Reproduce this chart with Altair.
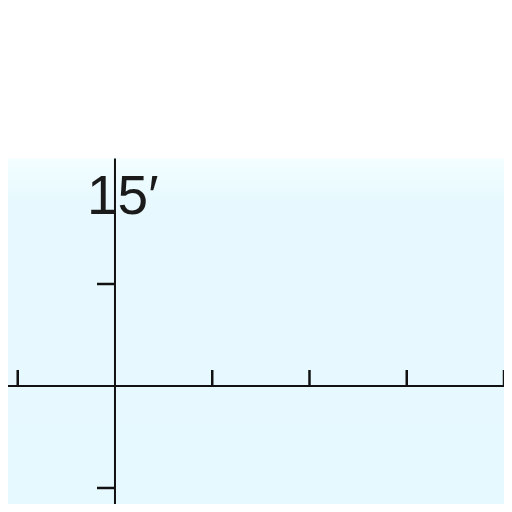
import altair as alt
import pandas as pd

# data
x_ticks = [-1, 1, 2, 3, 4]
y_ticks = [1, -1]
label_text = ["15′"]
label_x = [-0.288]
label_y = [1.686]
x_domain = [-1.10, 4.0]
y_domain = [-1.157, 3.706]
panel_top = [2.23]
x_tick_len = 0.157
y_tick_len = 0.185

W, H = 496, 496
xs = alt.Scale(domain=x_domain, nice=False, zero=False)
ys = alt.Scale(domain=y_domain, nice=False, zero=False)

bg = alt.Chart(pd.DataFrame({"x": [x_domain[0]], "x2": [x_domain[1]], "y": [y_domain[0]], "y2": panel_top})).mark_rect(
    color=alt.Gradient(gradient="linear", x1=0, y1=0, x2=0, y2=1,
                       stops=[alt.GradientStop(color="#f3feff", offset=0),
                              alt.GradientStop(color="#e7f9fe", offset=0.12),
                              alt.GradientStop(color="#e6f9fe", offset=1)])
).encode(
    x=alt.X("x:Q", scale=xs, axis=None), x2="x2:Q",
    y=alt.Y("y:Q", scale=ys, axis=None), y2="y2:Q")

xaxis = alt.Chart(pd.DataFrame({"x": [x_domain[0]], "x2": [x_domain[1]], "y": [0]})).mark_rule(
    color="#111111", strokeWidth=2).encode(
    x=alt.X("x:Q", scale=xs, axis=None), x2="x2:Q", y=alt.Y("y:Q", scale=ys, axis=None))

yaxis = alt.Chart(pd.DataFrame({"x": [0], "y": [y_domain[0]], "y2": panel_top})).mark_rule(
    color="#111111", strokeWidth=2).encode(
    x=alt.X("x:Q", scale=xs, axis=None), y=alt.Y("y:Q", scale=ys, axis=None), y2="y2:Q")

xt_df = pd.DataFrame({"x": x_ticks, "y": [0] * len(x_ticks), "y2": [x_tick_len] * len(x_ticks)})
xt = alt.Chart(xt_df).mark_rule(color="#111111", strokeWidth=2.5).encode(
    x=alt.X("x:Q", scale=xs, axis=None), y=alt.Y("y:Q", scale=ys, axis=None), y2="y2:Q")

yt_df = pd.DataFrame({"y": y_ticks, "x": [-y_tick_len] * len(y_ticks), "x2": [0] * len(y_ticks)})
yt = alt.Chart(yt_df).mark_rule(color="#111111", strokeWidth=2.5).encode(
    y=alt.Y("y:Q", scale=ys, axis=None), x=alt.X("x:Q", scale=xs, axis=None), x2="x2:Q")

lab = alt.Chart(pd.DataFrame({"t": label_text, "x": label_x, "y": label_y})).mark_text(
    font="Liberation Sans", fontSize=55, color="#1a1a1a", align="left", baseline="alphabetic").encode(
    x=alt.X("x:Q", scale=xs, axis=None), y=alt.Y("y:Q", scale=ys, axis=None), text="t:N")

chart = alt.layer(bg, xaxis, yaxis, xt, yt, lab).properties(
    width=W, height=H, padding=0, autosize=alt.AutoSizeParams(type="none")
).configure(background="white", view=alt.ViewConfig(strokeWidth=0))

chart.save("out.html", embed_options={"renderer": "svg", "actions": False})
